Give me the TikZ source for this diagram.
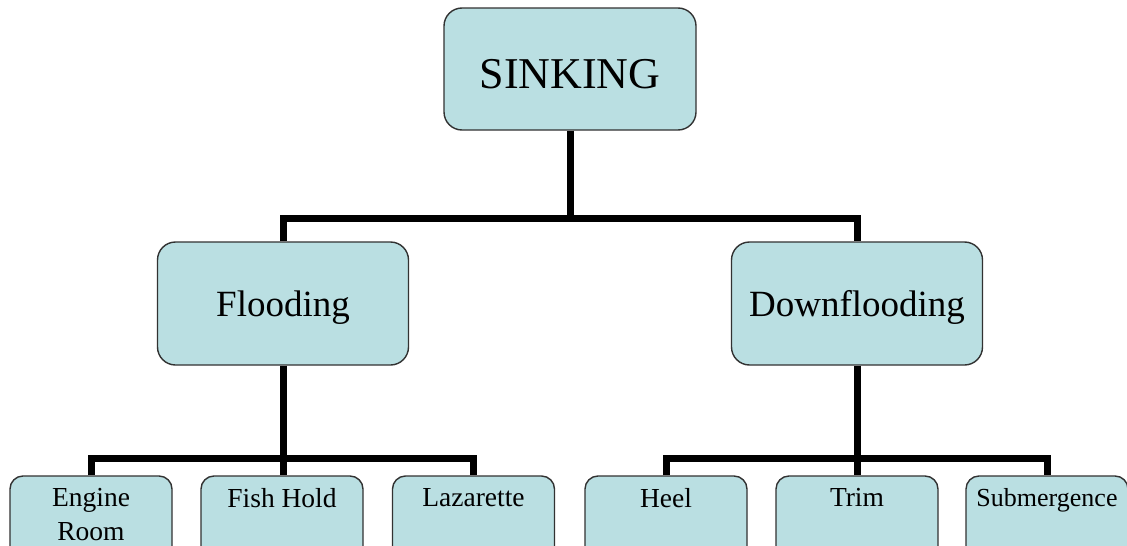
\documentclass[tikz,border=0pt]{standalone}
\usepackage{fontspec}
\setmainfont{Liberation Serif}
\definecolor{boxfill}{RGB}{186,223,226}
\definecolor{boxline}{RGB}{50,50,50}
\begin{document}
\begin{tikzpicture}[x=1pt,y=-1pt,
  box/.style={draw=boxline,line width=1.4pt,fill=boxfill,rounded corners=18pt,inner sep=0pt},
  bigbox/.style={box,minimum width=252pt,minimum height=122pt,text height=38pt,text depth=0pt},
  midbox/.style={box,minimum width=251pt,minimum height=123pt,text height=25pt,text depth=0pt},
  leafbox/.style={box,rounded corners=13pt,minimum width=162pt,minimum height=110pt},
  leaflabel/.style={anchor=north,inner sep=0pt,align=center,font=\fontsize{27.5}{34}\selectfont},
  conn/.style={line width=7pt}]
\useasboundingbox (0,0) rectangle (1127,546);
\clip (0,0) rectangle (1127,546);
\fill[white] (0,0) rectangle (1127,546);
\coordinate (bar1) at (570,218);
\coordinate (bar2) at (283,458);
\coordinate (bar3) at (857,458);
\node[bigbox,font=\fontsize{44}{50}\selectfont] (sink) at (570,69) {SINKING};
\node[midbox,font=\fontsize{37}{42}\selectfont] (flood) at (283,303.5) {Flooding};
\node[midbox,font=\fontsize{37}{42}\selectfont] (down) at (857,303.5) {Downflooding};
\node[leafbox] (eng) at (91,531) {};
\node[leafbox] (fish) at (282,531) {};
\node[leafbox] (laz) at (473.5,531) {};
\node[leafbox] (heel) at (666,531) {};
\node[leafbox] (trim) at (857,531) {};
\node[leafbox] (sub) at (1047,531) {};
\node[leaflabel] (engt) at (91,488) {Engine\\Room};
\node[leaflabel] (fisht) at (282,488) {Fish Hold};
\node[leaflabel] (lazt) at (473.5,488) {Lazarette};
\node[leaflabel] (heelt) at (666,488) {Heel};
\node[leaflabel] (trimt) at (857,488) {Trim};
\node[leaflabel,font=\fontsize{26}{30}\selectfont] (subt) at (1047,488) {Submergence};
\draw[conn] (sink.south) -- (bar1);
\draw[conn] (flood.north) -- (flood.north |- bar1) -- (down.north |- bar1) -- (down.north);
\draw[conn] (flood.south) -- (bar2);
\draw[conn] (eng.north) -- (eng.north |- bar2) -- (laz.north |- bar2) -- (laz.north);
\draw[conn] (bar2) -- (bar2 |- fish.north);
\draw[conn] (down.south) -- (bar3);
\draw[conn] (heel.north) -- (heel.north |- bar3) -- (sub.north |- bar3) -- (sub.north);
\draw[conn] (bar3) -- (trim.north);
\end{tikzpicture}
\end{document}
